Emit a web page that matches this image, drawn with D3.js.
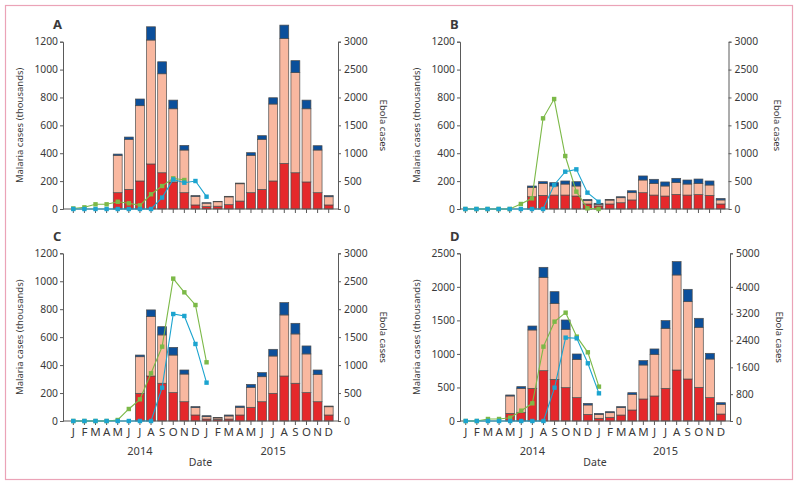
<!DOCTYPE html>
<html>
<head>
<meta charset="utf-8">
<script src="https://cdn.jsdelivr.net/npm/d3@7"></script>
<style>
  body { margin: 0; background: #fff; }
  text { font-family: "Noto Sans", sans-serif; fill: #3a3a3a; }
</style>
</head>
<body>
<div id="chart"></div>
<script>

/* DATA */
const months = ["J","F","M","A","M","J","J","A","S","O","N","D",
                "J","F","M","A","M","J","J","A","S","O","N","D"];
const years = ["2014", "2015"];

// malaria cases (thousands), stacked: red bottom, salmon middle, blue top
const redA    = [0,0,0,0,117,141,201,323,260,194,117,29, 17,20,31,57,117,141,201,327,260,194,117,29];
const salmonA = [0,0,0,0,268,359,540,889,710,525,306,62, 25,32,56,124,268,359,552,897,718,525,306,59];
const blueA   = [0,0,0,0,9,16,48,95,86,62,33,5, 3,3,4,5,19,26,45,95,86,62,31,8];

const redB    = [0,0,0,0,0,0,88,98,100,100,93,36, 22,36,45,65,117,100,93,105,100,103,98,36];
const salmonB = [0,0,0,0,0,0,67,86,65,79,72,25, 12,28,36,52,91,84,72,84,79,81,74,29];
const blueB   = [0,0,0,0,0,0,10,12,24,22,31,8, 7,5,7,14,29,29,29,31,29,31,29,11];

const redC    = [0,0,0,0,0,0,198,322,270,203,138,43, 14,12,14,43,98,138,198,322,270,203,138,43];
const salmonC = [0,0,0,0,0,0,262,425,346,269,198,53, 17,10,22,55,143,179,267,437,353,277,196,59];
const blueC   = [0,0,0,0,0,0,12,48,59,55,29,7, 7,4,7,9,21,29,48,88,76,57,31,5];

const redD    = [0,0,0,0,114,124,487,750,621,497,348,99, 40,55,89,164,328,373,487,760,626,502,348,104];
const salmonD = [0,0,0,0,259,363,870,1392,1133,870,571,140, 59,69,110,234,507,621,895,1417,1153,895,576,145];
const blueD   = [0,0,0,0,15,25,59,149,174,139,80,24, 15,15,15,24,65,80,114,199,184,134,85,24];

// ebola cases, Jan 2014 onwards
const greenA = [10,30,84,84,130,102,66,264,412,550,520];
const tealA  = [0,0,0,0,0,0,0,0,205,530,472,502,221];
const greenB = [0,0,0,0,0,90,191,1626,1972,950,311,12,0];
const tealB  = [0,0,0,0,0,0,0,0,430,669,711,293,131];
const greenC = [0,0,0,0,18,215,388,853,1330,2547,2302,2075,1050];
const tealC  = [0,0,0,0,0,0,0,0,596,1914,1879,1378,686];
const greenD = [0,0,60,60,99,308,527,2217,2962,3230,2515,2048,1024];
const tealD  = [0,0,0,0,0,0,0,0,994,2485,2465,1720,825];

const leftTicksA = [0,200,400,600,800,1000,1200];
const rightTicksA = [0,500,1000,1500,2000,2500,3000];
const leftTicksD = [0,500,1000,1500,2000,2500];
const rightTicksD = [0,800,1600,2400,3200,4000,5000];

/* PANEL SETUP */
const panels = [
  {id:"A", red:redA, salmon:salmonA, blue:blueA, green:greenA, teal:tealA,
   leftMax:1200, rightMax:3000, leftTicks:leftTicksA, rightTicks:rightTicksA,
   left:63, right:338, top:41.7, bottom:209, bandL:67.75, bandR:334.25, labels:false},
  {id:"B", red:redB, salmon:salmonB, blue:blueB, green:greenB, teal:tealB,
   leftMax:1200, rightMax:3000, leftTicks:leftTicksA, rightTicks:rightTicksA,
   left:460, right:728.5, top:41.7, bottom:209, bandL:459.8, bandR:726.2, labels:false},
  {id:"C", red:redC, salmon:salmonC, blue:blueC, green:greenC, teal:tealC,
   leftMax:1200, rightMax:3000, leftTicks:leftTicksA, rightTicks:rightTicksA,
   left:63, right:338, top:253.3, bottom:421, bandL:67.75, bandR:334.25, labels:true},
  {id:"D", red:redD, salmon:salmonD, blue:blueD, green:greenD, teal:tealD,
   leftMax:2500, rightMax:5000, leftTicks:leftTicksD, rightTicks:rightTicksD,
   left:460, right:730, top:253.3, bottom:421, bandL:460.2, bandR:726.6, labels:true}
];

const width = 800;
const height = 486;

const svg = d3.select("#chart")
  .append("svg")
  .attr("width", width)
  .attr("height", height);

// pink frame
svg.append("rect")
  .attr("x", 5.5).attr("y", 5.5)
  .attr("width", 787).attr("height", 474)
  .attr("fill", "none")
  .attr("stroke", "#eba3b7")
  .attr("stroke-width", 1.2);

const colors = {red: "#e5282b", salmon: "#f9b8a0", blue: "#0b4f9b",
                green: "#7cb948", teal: "#1ca4cf", axis: "#5a5a5a", edge: "#4d4d4d"};

const fmt = d3.format("d");

panels.forEach(function(p) {

  const g = svg.append("g");

  const x = d3.scaleBand()
    .domain(d3.range(months.length))
    .range([p.bandL, p.bandR])
    .paddingInner(0.2)
    .paddingOuter(0.1);

  const yL = d3.scaleLinear().domain([0, p.leftMax]).range([p.bottom, p.top]);
  const yR = d3.scaleLinear().domain([0, p.rightMax]).range([p.bottom, p.top]);

  /* stacked bars */
  const rows = months.map(function(m, i) {
    return {i: i, red: p.red[i], salmon: p.salmon[i], blue: p.blue[i]};
  });
  const stack = d3.stack().keys(["red", "salmon", "blue"])(rows);

  stack.forEach(function(layer) {
    g.append("g")
      .selectAll("rect")
      .data(layer.filter(function(d) { return d[1] > d[0]; }))
      .enter()
      .append("rect")
      .attr("x", function(d) { return x(d.data.i); })
      .attr("width", x.bandwidth())
      .attr("y", function(d) { return yL(d[1]); })
      .attr("height", function(d) { return yL(d[0]) - yL(d[1]); })
      .attr("fill", colors[layer.key])
      .attr("stroke", colors.edge)
      .attr("stroke-width", 0.7);
  });

  /* axes */
  const axL = g.append("g")
    .attr("transform", "translate(" + p.left + ",0)")
    .call(d3.axisLeft(yL).tickValues(p.leftTicks).tickFormat(fmt)
      .tickSize(3).tickSizeOuter(3).tickPadding(2));
  const axR = g.append("g")
    .attr("transform", "translate(" + p.right + ",0)")
    .call(d3.axisRight(yR).tickValues(p.rightTicks).tickFormat(fmt)
      .tickSize(3).tickSizeOuter(3).tickPadding(3));

  [axL, axR].forEach(function(a) {
    a.selectAll("path, line").attr("stroke", colors.axis);
    a.selectAll("text").attr("font-size", 10.3).attr("fill", "#3a3a3a").style("font-family", "Noto Sans");
  });

  g.append("line")
    .attr("x1", p.left).attr("x2", p.right)
    .attr("y1", p.bottom).attr("y2", p.bottom)
    .attr("stroke", colors.axis);

  const axX = g.append("g")
    .attr("transform", "translate(0," + p.bottom + ")")
    .call(d3.axisBottom(x).tickSize(4).tickPadding(3)
      .tickFormat(function(i) { return p.labels ? months[i] : ""; }));
  axX.select(".domain").remove();
  axX.selectAll("line").attr("stroke", colors.axis);
  axX.selectAll("text").attr("font-size", 11.5).attr("fill", "#3a3a3a").style("font-family", "Noto Sans");

  if (p.labels) {
    years.forEach(function(yr, k) {
      g.append("text")
        .attr("x", x(k * 12 + 6) + x.bandwidth() / 2)
        .attr("y", p.bottom + 34)
        .attr("text-anchor", "middle")
        .attr("font-size", 11)
        .text(yr);
    });
    g.append("text")
      .attr("x", (p.left + p.right) / 2)
      .attr("y", p.bottom + 45)
      .attr("text-anchor", "middle")
      .attr("font-size", 10.5)
      .text("Date");
  }

  /* ebola lines */
  [["green", p.green], ["teal", p.teal]].forEach(function(s) {
    const pts = s[1].map(function(v, i) { return {i: i, v: v}; });
    const line = d3.line()
      .x(function(d) { return x(d.i) + x.bandwidth() / 2; })
      .y(function(d) { return yR(d.v); });

    g.append("path")
      .datum(pts)
      .attr("d", line)
      .attr("fill", "none")
      .attr("stroke", colors[s[0]])
      .attr("stroke-width", 1.1);

    g.append("g")
      .selectAll("rect")
      .data(pts)
      .enter()
      .append("rect")
      .attr("x", function(d) { return x(d.i) + x.bandwidth() / 2 - 2.2; })
      .attr("y", function(d) { return yR(d.v) - 2.2; })
      .attr("width", 4.4)
      .attr("height", 4.4)
      .attr("fill", colors[s[0]]);
  });

  /* titles */
  g.append("text")
    .attr("x", p.left - 10)
    .attr("y", p.top - 12.5)
    .attr("font-size", 13)
    .attr("font-weight", "bold")
    .attr("fill", "#222")
    .text(p.id);

  const midY = (p.top + p.bottom) / 2;
  g.append("text")
    .attr("transform", "translate(" + (p.left - 43) + "," + midY + ") rotate(-90)")
    .attr("dy", "0.35em")
    .attr("text-anchor", "middle")
    .attr("font-size", 9.5)
    .text("Malaria cases (thousands)");

  g.append("text")
    .attr("transform", "translate(" + (p.id === "A" || p.id === "C" ? p.right + 45 : p.right + 49) + "," + midY + ") rotate(90)")
    .attr("dy", "0.35em")
    .attr("text-anchor", "middle")
    .attr("font-size", 9.5)
    .text("Ebola cases");
});

</script>
</body>
</html>
